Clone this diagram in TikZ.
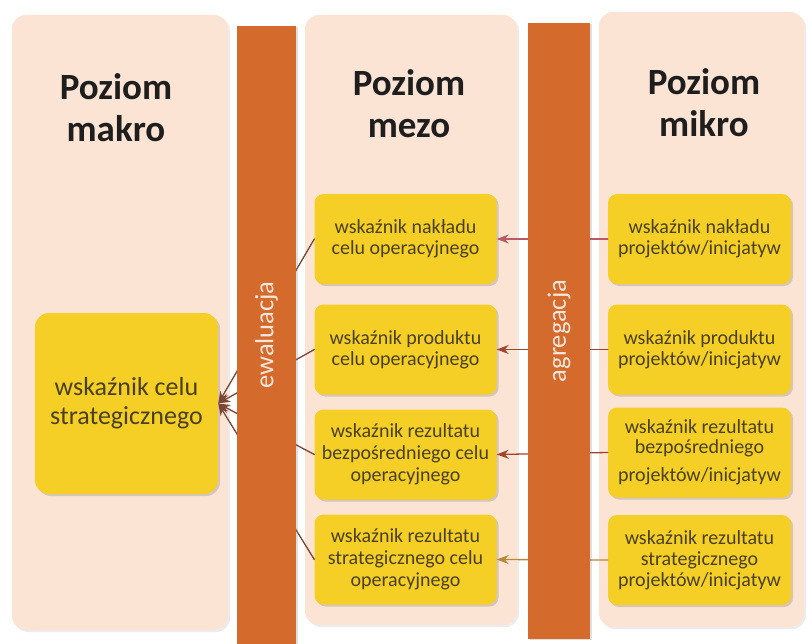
\documentclass[tikz,border=0pt]{standalone}
\usepackage{fontspec}
\setmainfont{Carlito}
\usetikzlibrary{shadows,arrows.meta}
\definecolor{panelc}{HTML}{FCE4D4}
\definecolor{barc}{HTML}{D46A2C}
\definecolor{boxc}{HTML}{F5CF26}
\definecolor{txtc}{HTML}{4A4020}
\definecolor{headc}{HTML}{1E1E1E}
\definecolor{bartxt}{HTML}{F6E6DA}
\definecolor{arra}{HTML}{B85A66}
\definecolor{arrb}{HTML}{A0452C}
\definecolor{arrc}{HTML}{B8883A}
\definecolor{evc}{HTML}{7A4636}
\begin{document}
\begin{tikzpicture}[x=1pt,y=-1pt,line join=round,line cap=round,>={Stealth[length=12pt,width=9pt]}]
 \tikzset{panel/.style={fill=panelc,rounded corners=14pt,inner sep=0pt,
   drop shadow={shadow xshift=2pt,shadow yshift=-2pt,opacity=0.15}},
  head/.style={align=center,text=headc,font=\bfseries\fontsize{37}{42}\selectfont},
  ind/.style={fill=boxc,rounded corners=9pt,minimum width=182pt,minimum height=90pt,
   align=center,text=txtc,inner sep=2pt,font=\fontsize{20}{21}\selectfont,
   drop shadow={shadow xshift=2pt,shadow yshift=-2pt,opacity=0.3}},
  bar/.style={fill=barc,rotate=90,text=bartxt,inner sep=0pt,
   font=\fontsize{26.5}{28}\selectfont,
   drop shadow={shadow xshift=2pt,shadow yshift=-1pt,opacity=0.25}}}
 \useasboundingbox[fill=white] (0,0) rectangle (808,644);
 \node[panel,minimum width=216pt,minimum height=615pt] (pmak) at (120,322.5) {};
 \node[panel,minimum width=212pt,minimum height=610pt] (pmez) at (411,320) {};
 \node[panel,minimum width=205pt,minimum height=615pt] (pmik) at (701.5,319.5) {};
 \node[head] (hmak) at (116,108) {Poziom\\makro};
 \node[head] (hmez) at (409,104) {Poziom\\mezo};
 \node[head] (hmik) at (704,103) {Poziom\\mikro};
 \node[ind,minimum width=183pt,minimum height=181pt,rounded corners=14pt,
  font=\fontsize{26}{29}\selectfont] (mak) at (126.5,403.5) {wskaźnik celu\\strategicznego};
 \node[ind] (mez1) at (405.5,239) {wskaźnik nakładu\\celu operacyjnego};
 \node[ind] (mez2) at (405.5,349.5) {wskaźnik produktu\\celu operacyjnego};
 \node[ind,font=\fontsize{20}{22}\selectfont] (mez3) at (405.5,454.5) {wskaźnik rezultatu\\bezpośredniego celu\\operacyjnego};
 \node[ind,font=\fontsize{20}{22}\selectfont] (mez4) at (405.5,559.5) {wskaźnik rezultatu\\strategicznego celu\\operacyjnego};
 \node[ind,minimum width=183pt] (mik1) at (699.5,239) {wskaźnik nakładu\\projektów/inicjatyw};
 \node[ind,minimum width=183pt] (mik2) at (699.5,349.5) {wskaźnik produktu\\projektów/inicjatyw};
 \node[ind,minimum width=183pt,font=\fontsize{20}{20}\selectfont] (mik3) at (699.5,452.5) {wskaźnik rezultatu\\bezpośredniego\\[8pt]projektów/inicjatyw};
 \node[ind,minimum width=183pt] (mik4) at (699.5,560) {wskaźnik rezultatu\\strategicznego\\projektów/inicjatyw};
 \foreach \i/\c in {1/arra,2/arrb,3/arrb,4/arrc}
  \draw[->,\c,line width=1.3pt] (mik\i.west) -- (mez\i.east);
 \foreach \i in {1,...,4}
  \draw[->,evc,line width=1.3pt] (mez\i.west) -- (mak.east);
 \node[bar,minimum width=618pt,minimum height=59pt] (ewal) at (266.5,335) {ewaluacja};
 \node[bar,minimum width=616pt,minimum height=62pt] (agr) at (559,331) {agregacja};
\end{tikzpicture}
\end{document}
